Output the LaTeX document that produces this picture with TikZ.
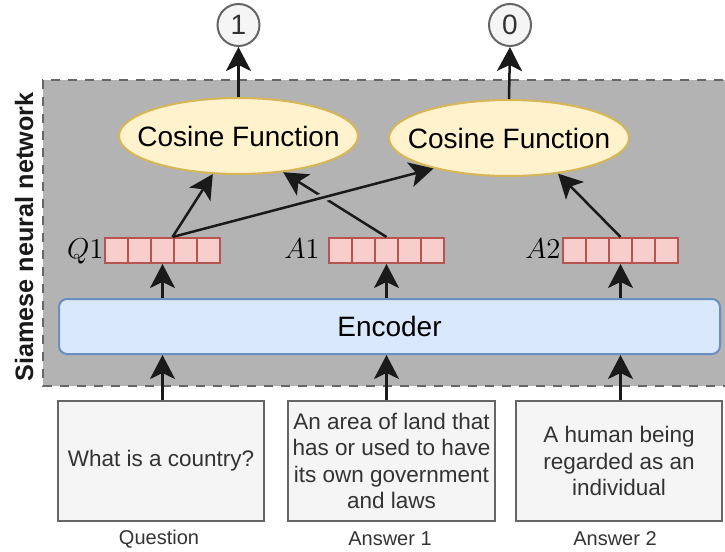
\documentclass[tikz,border=0pt]{standalone}
\usepackage[no-math]{fontspec}
\setmainfont{Liberation Sans}
\usetikzlibrary{shapes.geometric,arrows.meta,calc,intersections}
\definecolor{panelgray}{HTML}{B3B3B3}
\definecolor{framegray}{HTML}{666666}
\definecolor{ellfill}{HTML}{FFF2CC}
\definecolor{elldraw}{HTML}{D6B656}
\definecolor{encfill}{HTML}{DAE8FC}
\definecolor{encdraw}{HTML}{6C8EBF}
\definecolor{cellfill}{HTML}{F8CECC}
\definecolor{celldraw}{HTML}{B85450}
\definecolor{boxfill}{HTML}{F5F5F5}
\definecolor{textgray}{HTML}{333333}
\definecolor{inkblack}{HTML}{1A1A1A}

\begin{document}
\begin{tikzpicture}[x=0.5pt,y=-0.5pt,
  conn/.style={draw=inkblack, line width=1.25pt,
    -{Stealth[length=12pt,width=12.5pt,inset=3pt]}},
  gapline/.style={draw=panelgray, line width=4pt},
  cell/.style={rectangle, draw=celldraw, fill=cellfill, line width=1pt,
    minimum width=11.5pt, minimum height=12.5pt, inner sep=0pt},
  veclabel/.style={inner sep=0pt, font=\fontsize{13.5}{16}\selectfont},
  cosfn/.style={ellipse, draw=elldraw, fill=ellfill, line width=1pt,
    minimum width=119.5pt, minimum height=38pt, inner sep=0pt,
    font=\fontsize{14}{16.8}\selectfont},
  outcircle/.style={circle, draw=framegray, fill=boxfill, line width=1pt,
    minimum size=21pt, inner sep=0pt, text=textgray,
    font=\fontsize{14}{16.8}\selectfont},
  encoder/.style={rectangle, rounded corners=4pt, draw=encdraw, fill=encfill,
    line width=1pt, minimum width=330.5pt, minimum height=27.5pt,
    font=\fontsize{14}{16.8}\selectfont},
  textbox/.style={rectangle, draw=framegray, fill=boxfill, line width=1pt,
    minimum width=103pt, minimum height=60pt, inner sep=0pt, align=center,
    text=textgray, font=\fontsize{11.25}{13.25}\selectfont},
  caption/.style={inner sep=0pt, text=textgray, font=\fontsize{10}{12}\selectfont},
  sidelabel/.style={rotate=90, inner sep=0pt, text=inkblack,
    font=\fontsize{12.6}{15}\selectfont\bfseries}
]
\useasboundingbox (0,0) rectangle (725,552);
\clip (0,0) rectangle (725,552);

% shaded network panel (runs off the right edge)
\fill[panelgray] (43,80) rectangle (740,386);
\draw[framegray, line width=1pt, dash pattern=on 4.5pt off 4pt]
  (740,80) -- (43,80) -- (43,386) -- (740,386);
\node[sidelabel] (side) at (24,237) {Siamese neural network};

% outputs
\node[outcircle] (o1) at (238.5,25) {1};
\node[outcircle] (o2) at (510,25) {0};

% similarity heads (zero-width text box so the ellipse keeps its set size)
\node[cosfn] (e1) at (238.5,136) {\makebox[0pt]{Cosine Function}};
\node[cosfn, minimum width=120pt] (e2) at (509,138) {\makebox[0pt]{Cosine Function}};

% embedding vectors
\foreach \v/\x in {q1/105, a1/329, a2/563}
  \foreach \i in {1,...,5}
    \node[cell] (\v c\i) at ({\x+23*\i-11.5}, 250.5) {};
\node[veclabel, anchor=base east] (q1lab) at (104,258.5) {$Q1$};
\node[veclabel, anchor=base east] (a1lab) at (320,258.5) {$A1$};
\node[veclabel, anchor=base east] (a2lab) at (561,258.5) {$A2$};

% shared encoder
\node[encoder] (enc) at (389.5,326.5) {Encoder};

% inputs
\node[textbox] (qbox) at (161,461) {What is a country?};
\node[textbox, minimum width=103.5pt] (abox1) at (391.5,461)
  {An area of land that\\has or used to have\\its own government\\and laws};
\node[textbox] (abox2) at (619,461) {A human being\\regarded as an\\individual};
\node[caption] (qcap) at (159,539) {Question};
\node[caption] (acap1) at (390,539) {Answer 1};
\node[caption] (acap2) at (615,539) {Answer 2};

% inputs into the encoder, encoder into the vectors
\foreach \b/\v in {qbox/q1, abox1/a1, abox2/a2} {
  \draw[conn] (\b.north -| \v c3) -- (enc.south -| \v c3);
  \draw[conn] (enc.north -| \v c3) -- (\v c3.south);
}

% vectors into the cosine heads
\coordinate (q1out) at ($(q1c3.north)!0.8!(q1c3.north east)$);
\draw[conn] (q1out) -- (e1.236.8);
\draw[conn, name path=alink] (a1c3.north) -- (e1.321.9);
\path[name path=qlink] (q1out) -- (e2.202.1);
\path[name intersections={of=alink and qlink, by=cross}];
\draw[gapline] ($(cross)!3.5pt!(q1out)$) -- ($(cross)!3.5pt!(e2.202.1)$);
\draw[conn] (q1out) -- (e2.202.1);
\draw[conn] (a2c3.north) -- (e2.324.7);

% heads into the outputs
\draw[conn] (e1.north) -- (o1.south);
\draw[conn] (e2.north) -- (o2.south);
\end{tikzpicture}
\end{document}
